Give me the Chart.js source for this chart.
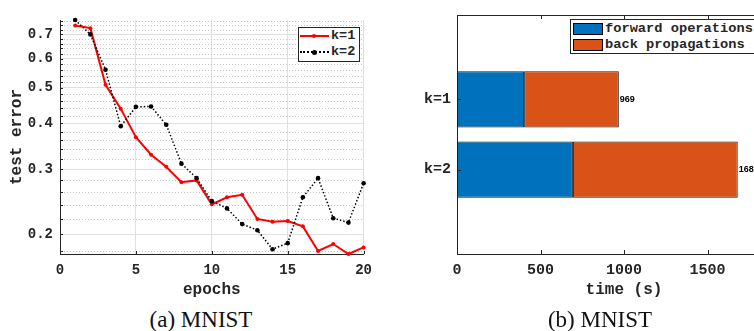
<!DOCTYPE html>
<html><head><meta charset="utf-8">
<script src="https://cdn.jsdelivr.net/npm/chart.js@4/dist/chart.umd.min.js"></script>
<style>
html,body{margin:0;padding:0;background:#fff;overflow:hidden;width:754px;height:331px;}
#wrap{position:relative;width:754px;height:331px;overflow:hidden;}
#c1{position:absolute;left:0;top:0;}
#c2{position:absolute;left:377px;top:0;}
.cap{position:absolute;font-family:'Liberation Serif','Times New Roman',serif;font-size:23px;line-height:23px;color:#111;white-space:nowrap;transform:translateX(-50%);}
.leg{position:absolute;background:#fff;border:1px solid #262626;font-family:'Liberation Mono',monospace;font-weight:bold;color:#262626;box-sizing:border-box;}
.leg .t{position:absolute;line-height:16px;white-space:nowrap;}
.leg .ln{position:absolute;height:0;}
.leg .dot{position:absolute;border-radius:50%;}
.leg .sw{position:absolute;border:1px solid #000;box-sizing:border-box;}
</style></head>
<body><div id="wrap">
<canvas id="c1" width="380" height="305"></canvas>
<canvas id="c2" width="454" height="305"></canvas>
<div class="cap" style="left:201px;top:308px;">(a) MNIST</div>
<div class="cap" style="left:600px;top:308px;">(b) MNIST</div>
<div class="leg" id="leg1" style="left:298px;top:27px;width:62px;height:35px;"></div>
<div class="leg" id="leg2" style="left:570px;top:19px;width:220px;height:35px;"></div>
</div>
<script>
// ---------- data ----------
const epochs = [1,2,3,4,5,6,7,8,9,10,11,12,13,14,15,16,17,18,19,20];
const seriesNames = ['k=1','k=2'];
const k1Err = [0.739,0.727,0.510,0.439,0.367,0.329,0.305,0.277,0.280,0.241,0.252,0.256,0.220,0.216,0.217,0.210,0.180,0.188,0.1766,0.184];
const k2Err = [0.765,0.699,0.560,0.393,0.444,0.445,0.397,0.311,0.284,0.246,0.235,0.213,0.205,0.182,0.189,0.252,0.284,0.221,0.215,0.275];
const errMajorTicks = [0.2,0.3,0.4,0.5,0.6,0.7];
const errMinorTicks = [0.18,0.22,0.24,0.26,0.28,0.32,0.34,0.36,0.38,0.42,0.44,0.46,0.48,0.52,0.54,0.56,0.58,0.62,0.64,0.66,0.68,0.72,0.74,0.76];
const epochTicks = [0,5,10,15,20];

const methods = ['k=1','k=2'];
const partNames = ['forward operations','back propagations'];
const forwardTime = [402,694];
const backTime = [567,987];
const totalTime = [969,1681];
const timeTicks = [0,500,1000,1500,2000];

const AX = '#262626';
const MONO = "'Liberation Mono','DejaVu Sans Mono',monospace";
const BLUE = '#0072BD', ORANGE = '#D95319';

// ---------- plugins ----------
const axesDeco = {
  id:'axesDeco',
  beforeDatasetsDraw(chart, args, o){
    if(!o.minor) return;
    const {ctx, chartArea:a} = chart; const s = chart.scales.y;
    ctx.save(); ctx.strokeStyle = '#c4c4c4'; ctx.lineWidth = 1; ctx.setLineDash([1,2]);
    o.minor.forEach(v=>{
      const y = Math.round(s.getPixelForValue(v)) + 0.5;
      if(y < a.top || y > a.bottom) return;
      ctx.beginPath(); ctx.moveTo(a.left+1, y); ctx.lineTo(a.right, y); ctx.stroke();
    });
    ctx.restore();
  },
  afterDraw(chart, args, o){
    const {ctx, chartArea:a} = chart;
    const xs = chart.scales.x, ys = chart.scales.y;
    ctx.save(); ctx.strokeStyle = AX; ctx.lineWidth = 1;
    (o.yTicks||[]).forEach(v=>{
      const y = Math.round(ys.getPixelForValue(v)) + 0.5;
      if(y < a.top-1 || y > a.bottom+1) return;
      ctx.beginPath(); ctx.moveTo(a.left, y); ctx.lineTo(a.left + o.len, y); ctx.stroke();
    });
    (o.xTicks||[]).forEach(v=>{
      const x = Math.round(xs.getPixelForValue(v)) + 0.5;
      if(x < a.left+2) return;
      ctx.beginPath(); ctx.moveTo(x, a.bottom); ctx.lineTo(x, a.bottom - o.len); ctx.stroke();
      if(o.box){ ctx.beginPath(); ctx.moveTo(x, a.top); ctx.lineTo(x, a.top + o.len); ctx.stroke(); }
    });
    if(o.box){
      ctx.beginPath(); ctx.moveTo(a.left, Math.round(a.top)+0.5); ctx.lineTo(a.right, Math.round(a.top)+0.5); ctx.stroke();
    }
    ctx.restore();
  }
};

const totalsPlugin = {
  id:'totals',
  afterDatasetsDraw(chart, args, o){
    if(!o.values) return;
    const ctx = chart.ctx;
    const meta = chart.getDatasetMeta(chart.data.datasets.length-1);
    ctx.save(); ctx.font = "bold 9px 'Liberation Sans', Arial, sans-serif"; ctx.fillStyle = '#000';
    ctx.textBaseline = 'middle'; ctx.textAlign = 'left';
    meta.data.forEach((bar,i)=>{ ctx.fillText(String(o.values[i]), bar.x + 1, bar.y); });
    ctx.restore();
  }
};

// ---------- chart (a) ----------
const allErr = k1Err.concat(k2Err);
new Chart(document.getElementById('c1'), {
  type:'line',
  data:{
    datasets:[
      {label:seriesNames[0], data:epochs.map((e,i)=>({x:e,y:k1Err[i]})), borderColor:'#ff0000', backgroundColor:'#ff0000',
       borderWidth:2, pointRadius:2, pointBorderWidth:0, pointBackgroundColor:'#ff0000', tension:0, clip:false, order:1},
      {label:seriesNames[1], data:epochs.map((e,i)=>({x:e,y:k2Err[i]})), borderColor:'#000', backgroundColor:'#000',
       borderWidth:1.5, borderDash:[1.5,2], pointRadius:2.3, pointBorderWidth:0, pointBackgroundColor:'#000', tension:0, clip:false, order:0}
    ]
  },
  options:{
    responsive:false, animation:false, devicePixelRatio:1,
    layout:{padding:{top:20,right:13,left:0,bottom:0}},
    plugins:{legend:{display:false}, tooltip:{enabled:false},
      axesDeco:{minor:errMinorTicks, yTicks:errMajorTicks.concat(errMinorTicks), xTicks:epochTicks, len:3}},
    scales:{
      x:{type:'linear', min:0, max:20,
         afterBuildTicks:s=>{s.ticks = epochTicks.map(v=>({value:v}));},
         afterFit:s=>{s.height = 51;},
         grid:{color:'#e0e0e0', drawTicks:false, lineWidth:1},
         border:{color:AX, width:1},
         ticks:{font:{family:MONO, weight:'bold', size:14}, color:AX, padding:8, maxRotation:0, callback:v=>String(v)},
         title:{display:true, text:'epochs', font:{family:MONO, weight:'bold', size:16}, color:AX, padding:{top:0,bottom:5}}},
      y:{type:'logarithmic', min:Math.min(...allErr), max:Math.max(...allErr),
         afterBuildTicks:s=>{s.ticks = errMajorTicks.map(v=>({value:v}));},
         afterFit:s=>{s.width = 60;},
         grid:{color:'#e0e0e0', drawTicks:false, lineWidth:1},
         border:{color:AX, width:1},
         ticks:{font:{family:MONO, weight:'bold', size:14}, color:AX, padding:7, callback:v=>Number(v).toFixed(1)},
         title:{display:true, text:'test error', font:{family:MONO, weight:'bold', size:16}, color:AX, padding:{top:7,bottom:0}}}
    }
  },
  plugins:[axesDeco]
});

// ---------- chart (b) ----------
new Chart(document.getElementById('c2'), {
  type:'bar',
  data:{
    datasets:[
      {label:partNames[0], data:methods.map((m,i)=>({x:forwardTime[i], y:i+1})), backgroundColor:BLUE, borderColor:'#1a1a1a', borderWidth:1, borderSkipped:false},
      {label:partNames[1], data:methods.map((m,i)=>({x:backTime[i], y:i+1})), backgroundColor:ORANGE, borderColor:'#1a1a1a', borderWidth:1, borderSkipped:false}
    ]
  },
  options:{
    indexAxis:'y', responsive:false, animation:false, devicePixelRatio:1,
    categoryPercentage:0.8, barPercentage:1,
    layout:{padding:{top:11,right:40,left:0,bottom:0}},
    plugins:{legend:{display:false}, tooltip:{enabled:false},
      totals:{values:totalTime},
      axesDeco:{yTicks:[1,2], xTicks:timeTicks, len:4, box:true}},
    scales:{
      x:{type:'linear', min:0, max:2000, stacked:true, offset:false,
         afterBuildTicks:s=>{s.ticks = timeTicks.map(v=>({value:v}));},
         afterFit:s=>{s.height = 51;},
         grid:{display:false, drawTicks:false},
         border:{color:AX, width:1},
         ticks:{font:{family:MONO, weight:'bold', size:15}, color:AX, padding:7, maxRotation:0, callback:v=>String(v)},
         title:{display:true, text:'time (s)', font:{family:MONO, weight:'bold', size:16}, color:AX, padding:{top:0,bottom:5}}},
      y:{type:'linear', min:-0.2, max:3.2, reverse:true, stacked:true, offset:false,
         afterBuildTicks:s=>{s.ticks = methods.map((m,i)=>({value:i+1}));},
         afterFit:s=>{s.width = 80;},
         grid:{display:false, drawTicks:false, offset:false},
         border:{color:AX, width:1},
         ticks:{font:{family:MONO, weight:'bold', size:15}, color:AX, padding:6, callback:v=>methods[v-1]}}
    }
  },
  plugins:[axesDeco, totalsPlugin]
});

// ---------- legends ----------
(function(){
  const l1 = document.getElementById('leg1');
  const rows = [
    {name:seriesNames[0], color:'#ff0000', style:'solid', w:2, dot:4},
    {name:seriesNames[1], color:'#000', style:'dotted', w:2, dot:5}
  ];
  rows.forEach((r,i)=>{
    const cy = 8 + i*16;
    const ln = document.createElement('div'); ln.className='ln';
    ln.style.cssText = `left:1px;top:${cy-1}px;width:29px;border-top:${r.w}px ${r.style} ${r.color};`;
    const d = document.createElement('div'); d.className='dot';
    d.style.cssText = `left:${15-r.dot/2}px;top:${cy-r.dot/2}px;width:${r.dot}px;height:${r.dot}px;background:${r.color};`;
    const t = document.createElement('div'); t.className='t'; t.textContent = r.name;
    t.style.cssText = `left:32px;top:${cy-8}px;font-size:13.5px;`;
    l1.append(ln,d,t);
  });
  const l2 = document.getElementById('leg2');
  [BLUE, ORANGE].forEach((c,i)=>{
    const cy = 9 + i*16;
    const s = document.createElement('div'); s.className='sw';
    s.style.cssText = `left:2px;top:${cy-6}px;width:30px;height:12px;background:${c};`;
    const t = document.createElement('div'); t.className='t'; t.textContent = partNames[i];
    t.style.cssText = `left:34px;top:${cy-8}px;font-size:13.7px;`;
    l2.append(s,t);
  });
})();
</script>
</body></html>
